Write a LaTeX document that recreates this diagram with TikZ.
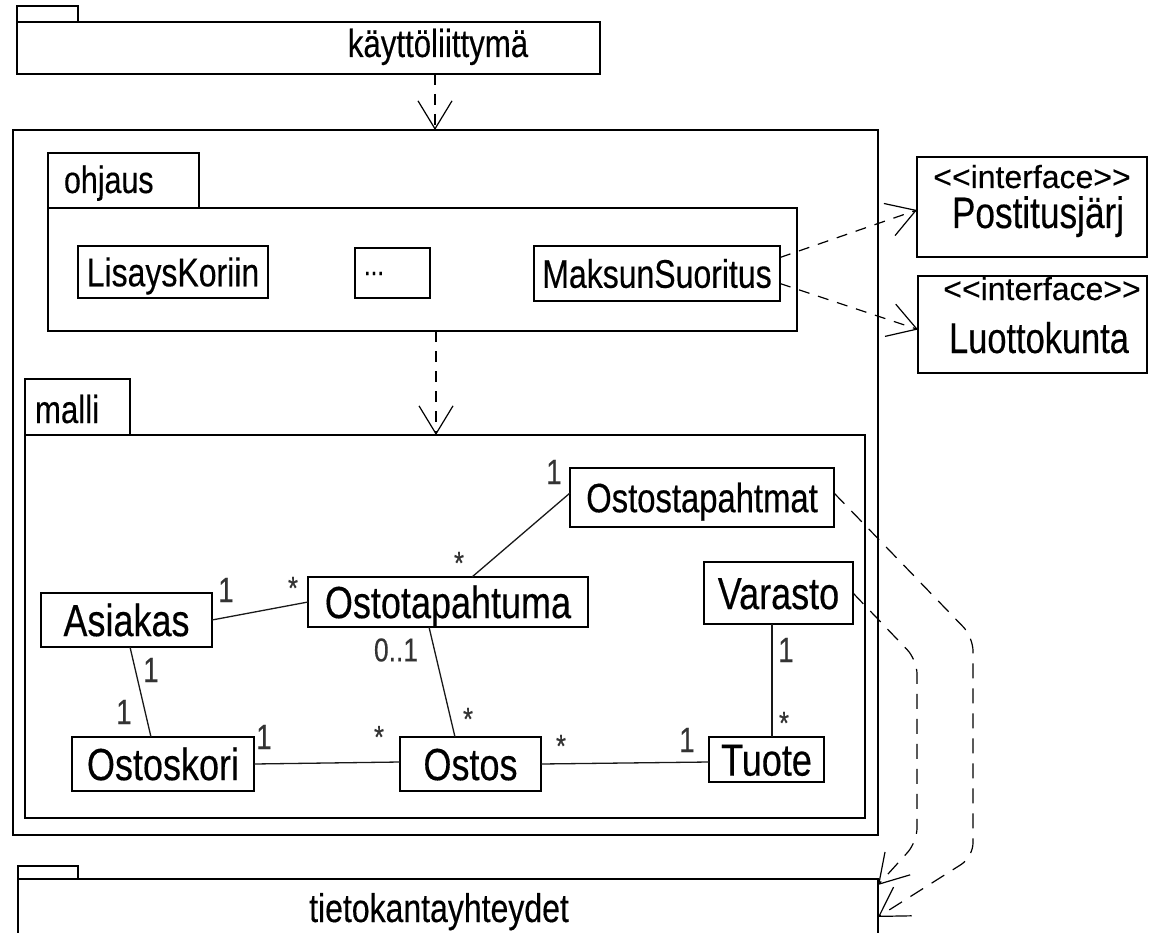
\documentclass[tikz,border=0pt]{standalone}
\usepackage{fontspec}
\setmainfont{Liberation Sans}[FakeStretch=0.8,FakeBold=0.3]
\newfontfamily\plainfont{Liberation Sans}[FakeStretch=1.0,FakeBold=0.2]
\usetikzlibrary{arrows.meta,calc}
\newcommand\myfs[1]{\fontsize{#1}{#1}\selectfont}
\begin{document}
\begin{tikzpicture}[x=1pt,y=-1pt,
  box/.style={draw=black, line width=1.8pt, inner sep=0pt, outer sep=0pt},
  cls/.style={box, text depth=0pt, text height=32.2pt, font=\myfs{45}},
  lbl/.style={inner sep=0pt, outer sep=0pt},
  mult/.style={lbl, font=\myfs{35}, text=black!80},
  star/.style={lbl, font=\myfs{32}, text=black!80},
  assoc/.style={line width=1.3pt, draw=black!90},
  dep/.style={line width=1.2pt, dash pattern=on 11pt off 9pt,
    -{Straight Barb[length=28pt,width=34pt,line width=1.2pt]}},
  longdep/.style={dep, dash pattern=on 15pt off 10pt, rounded corners=14pt},
]
\fill[white] (0,0) rectangle (1150,933);
\clip (0,0) rectangle (1150,933);
\useasboundingbox (0,0) rectangle (1150,933);

% top package
\node[box, anchor=north west, minimum width=61pt, minimum height=16pt] (uitab) at (17,6) {};
\node[box, anchor=north west, minimum width=583pt, minimum height=52pt] (ui) at (17,22) {};
\node[lbl, anchor=base, font=\myfs{39}] (uitext) at (438,57) {käyttöliittymä};

% big container
\node[box, anchor=north west, minimum width=865pt, minimum height=705pt] (big) at (13,130) {};
\coordinate (ax) at (435,0);
\draw[dep] (ax |- ui.south) -- (ax |- big.north);

% ohjaus package
\node[box, anchor=north west, minimum width=151pt, minimum height=55pt] (ohjtab) at (48,153) {};
\node[lbl, anchor=base west, font=\myfs{38}] (ohjtext) at (64,193) {ohjaus};
\node[box, anchor=north west, minimum width=749pt, minimum height=123pt] (ohj) at (48,208) {};
\node[cls, font=\myfs{40}, text height=28.6pt, minimum width=190pt, minimum height=52pt] (lisays) at (173,272) {LisaysKoriin};
\node[box, minimum width=75pt, minimum height=50pt] (dots) at (392.5,273) {};
\node[lbl, anchor=base west, font=\myfs{30}] (dotstext) at (364,275) {...};
\node[cls, font=\myfs{40}, text height=28.6pt, minimum width=246pt, minimum height=55pt] (maksun) at (657,273.5) {MaksunSuoritus};

% interfaces
\node[box, anchor=north west, minimum width=230pt, minimum height=100pt] (postitus) at (917,157) {};
\node[lbl, anchor=base, font=\plainfont\myfs{32}] (postitusst) at (1032,188) {<<interface>>};
\node[lbl, anchor=base, font=\myfs{44}] (postitusname) at (1038,228) {Postitusjärj};
\node[box, anchor=north west, minimum width=229pt, minimum height=97pt] (luotto) at (918,276) {};
\node[lbl, anchor=base, font=\plainfont\myfs{32}] (luottost) at (1042,300) {<<interface>>};
\node[lbl, anchor=base, font=\myfs{43}] (luottoname) at (1039,353) {Luottokunta};

\draw[dep] ([yshift=16pt]maksun.east) -- ([yshift=-3pt]postitus.west);
\draw[dep] ([yshift=-10pt]maksun.east) -- ([yshift=-5pt]luotto.west);

% malli package
\node[box, anchor=north west, minimum width=105pt, minimum height=56pt] (mallitab) at (25,379) {};
\node[lbl, anchor=base west, font=\myfs{39}] (mallitext) at (35,423) {malli};
\node[box, anchor=north west, minimum width=840pt, minimum height=383pt] (malli) at (25,435) {};
\coordinate (bx) at (436,0);
\draw[dep] (bx |- ohj.south) -- (bx |- malli.north);

% classes
\node[cls, font=\myfs{41}, text height=29.4pt, minimum width=264pt, minimum height=59pt] (ostost) at (702,497.5) {Ostostapahtmat};
\node[cls, minimum width=280pt, minimum height=50pt] (ostot) at (448,602) {Ostotapahtuma};
\node[cls, minimum width=171pt, minimum height=54pt] (asiakas) at (126.5,620) {Asiakas};
\node[cls, minimum width=149pt, minimum height=62pt] (varasto) at (778.5,593) {Varasto};
\node[cls, minimum width=182pt, minimum height=54pt] (ostoskori) at (163,764) {Ostoskori};
\node[cls, minimum width=141pt, minimum height=54pt] (ostos) at (470.5,764) {Ostos};
\node[cls, minimum width=115pt, minimum height=45pt] (tuote) at (766.5,759.5) {Tuote};

% associations
\draw[assoc] (asiakas.east) -- (ostot.west);
\draw[assoc] ([xshift=3.5pt]asiakas.south) -- ([xshift=-12pt]ostoskori.north);
\draw[assoc] ([xshift=-19pt]ostot.south) -- ([xshift=-15.5pt]ostos.north);
\draw[assoc] ([yshift=4.5pt]ostost.west) -- ([xshift=24pt]ostot.north);
\draw[assoc] (ostoskori.east) -- ([yshift=2pt]ostos.west);
\draw[assoc] (ostos.east) -- ([yshift=-2.5pt]tuote.west);
\draw[assoc] ([xshift=-6.5pt]varasto.south) -- ([xshift=5.5pt]tuote.north);

% multiplicities
\node[mult] (m1) at (554,472) {1};
\node[star] (m2) at (459,563) {*};
\node[mult] (m3) at (226,590) {1};
\node[star] (m4) at (293,588) {*};
\node[mult] (m5) at (151,670) {1};
\node[mult] (m6) at (124,712) {1};
\node[mult, font=\myfs{33}] (m7) at (396,650) {0..1};
\node[star] (m8) at (468,719) {*};
\node[mult] (m9) at (264,737) {1};
\node[star] (m10) at (379,737) {*};
\node[star] (m11) at (561,746) {*};
\node[mult] (m12) at (687,740) {1};
\node[mult] (m13) at (786,650) {1};
\node[star] (m14) at (784,723) {*};

% bottom package
\node[box, anchor=north west, minimum width=60pt, minimum height=13pt] (dbtab) at (18,866) {};
\node[box, anchor=north west, minimum width=860pt, minimum height=90pt] (db) at (18,879) {};
\node[lbl, anchor=base, font=\myfs{40}] (dbtext) at (439,922) {tietokantayhteydet};

% dependencies to database
\draw[longdep] (varasto.east) -- (917,660) -- (917,842) -- ([yshift=-6pt]db.north east);
\draw[longdep] ([yshift=4.5pt]ostost.east) -- (973,637) -- (973,857) -- ([yshift=-38pt]db.north east);
\end{tikzpicture}
\end{document}
